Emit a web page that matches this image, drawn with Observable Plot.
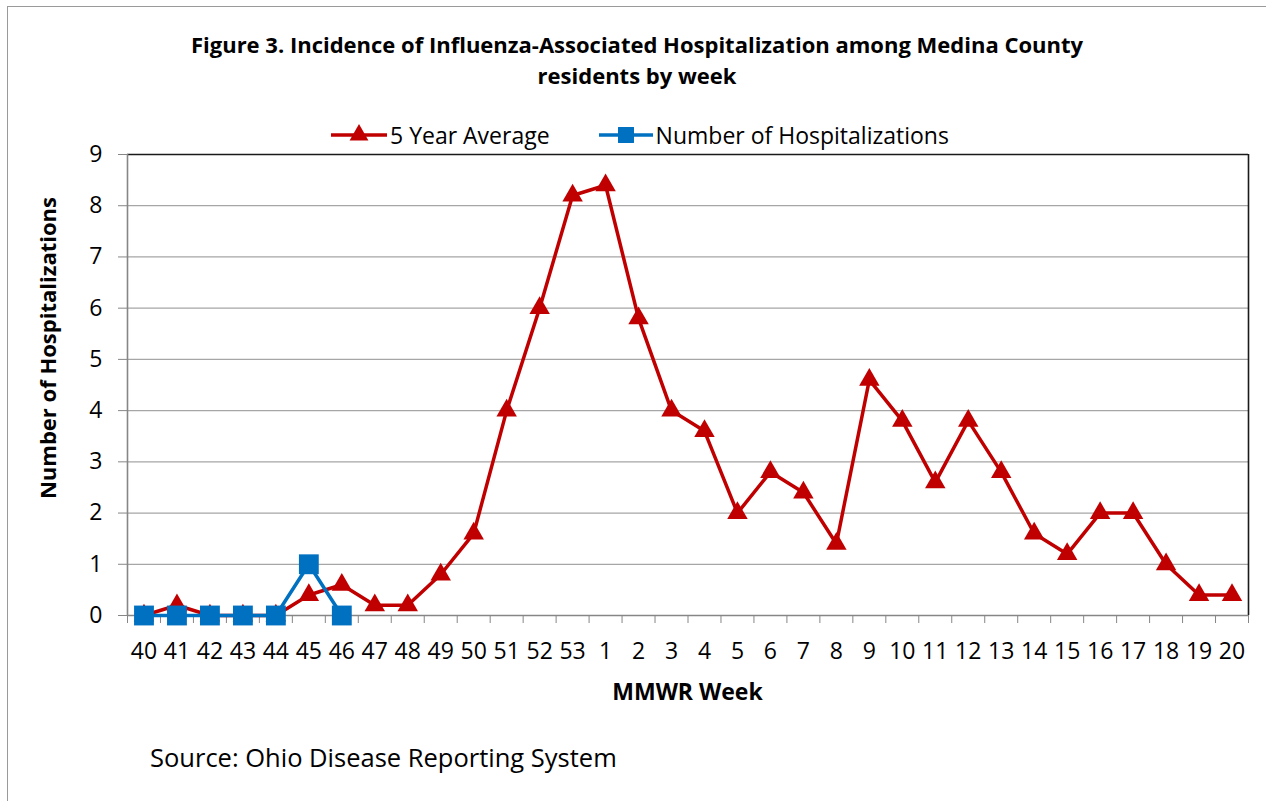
<!DOCTYPE html>
<html>
<head>
<meta charset="utf-8">
<script src="https://cdn.jsdelivr.net/npm/d3@7"></script>
<script src="https://cdn.jsdelivr.net/npm/@observablehq/plot@0.6"></script>
<style>
  html, body { margin: 0; padding: 0; background: #fff; }
  body { font-family: "Open Sans", sans-serif; color: #000; }
  #wrap { position: relative; width: 1266px; height: 801px; overflow: hidden; }
  #frame { position: absolute; left: 7px; top: 6px; width: 1270px; height: 820px;
           border-top: 1.5px solid #9a9a9a; border-left: 1.5px solid #9a9a9a; }
  #title { position: absolute; left: 0; width: 1274px; top: 29px; text-align: center;
           font-weight: bold; font-size: 22px; line-height: 31px; }
  #legend { position: absolute; top: 121px; left: 331px; font-size: 23px; line-height: 28px;
            display: flex; align-items: center; white-space: nowrap; }
  #legend svg { display: block; }
  #plot { position: absolute; left: 0; top: 110px; }
  #ylab { position: absolute; left: 47px; top: 348px; transform: translate(-50%, -50%) rotate(-90deg);
          font-weight: bold; font-size: 22px; white-space: nowrap; }
  #xlab { position: absolute; left: 0; width: 1375px; top: 675px; text-align: center;
          font-weight: bold; font-size: 23px; }
  #source { position: absolute; left: 150px; top: 740px; font-size: 25.5px; }
</style>
</head>
<body>
<div id="wrap">
  <div id="frame"></div>
  <div id="title">Figure 3. Incidence of Influenza-Associated Hospitalization among Medina County<br>residents by week</div>
  <div id="legend"></div>
  <div id="plot"></div>
  <div id="ylab">Number of Hospitalizations</div>
  <div id="xlab">MMWR Week</div>
  <div id="source">Source: Ohio Disease Reporting System</div>
</div>
<script>
// ---- data ----
const weeks = ["40","41","42","43","44","45","46","47","48","49","50","51","52","53",
  "1","2","3","4","5","6","7","8","9","10","11","12","13","14","15","16","17","18","19","20"];
const fiveYearAverage = [0,0.2,0,0,0,0.4,0.6,0.2,0.2,0.8,1.6,4,6,8.2,
  8.4,5.8,4,3.6,2,2.8,2.4,1.4,4.6,3.8,2.6,3.8,2.8,1.6,1.2,2,2,1,0.4,0.4];
const hospitalizations = [0,0,0,0,0,1,0];
const yTicks = [0,1,2,3,4,5,6,7,8,9];
const seriesNames = ["5 Year Average", "Number of Hospitalizations"];
const seriesColors = ["#C00000", "#0070C0"];

const avgData = fiveYearAverage.map((v, i) => ({i, week: weeks[i], value: v}));
const hospData = hospitalizations.map((v, i) => ({i, week: weeks[i], value: v}));
const idx = weeks.map((w, i) => i);
const bounds = d3.range(-0.5, weeks.length, 1);

const gridColor = "#a6a6a6";
const axisColor = "#868686";

const chart = Plot.plot({
  width: 1266,
  height: 600,
  marginLeft: 127,
  marginRight: 18,
  marginTop: 44,
  marginBottom: 95,
  style: {fontFamily: "'Open Sans', sans-serif", fontSize: "23px", color: "#000", background: "transparent"},
  x: {domain: [-0.5, weeks.length - 0.5]},
  y: {domain: [0, 9]},
  marks: [
    Plot.gridY(yTicks.filter(t => t > 0 && t < 9), {stroke: gridColor, strokeOpacity: 1, strokeWidth: 1.3}),
    Plot.ruleY([9], {stroke: "#1a1a1a", strokeWidth: 1.6}),
    Plot.ruleX([weeks.length - 0.5], {stroke: "#1a1a1a", strokeWidth: 1.6}),
    Plot.ruleX([-0.5], {stroke: axisColor, strokeWidth: 1.6}),
    Plot.ruleY([0], {stroke: axisColor, strokeWidth: 1.6}),
    Plot.axisY({ticks: yTicks, tickSize: 9, tickPadding: 16, stroke: axisColor, label: null, fontSize: 23}),
    Plot.axisX({ticks: idx, tickSize: 0, tickPadding: 27, tickFormat: i => weeks[i], label: null, fontSize: 23}),
    Plot.axisX({ticks: bounds, tickSize: 8, tickFormat: () => "", stroke: axisColor, label: null}),
    Plot.lineY(avgData, {x: "i", y: "value", stroke: seriesColors[0], strokeWidth: 3.5}),
    Plot.dot(avgData, {x: "i", y: "value", symbol: "triangle", r: 7.6, fill: seriesColors[0]}),
    Plot.lineY(hospData, {x: "i", y: "value", stroke: seriesColors[1], strokeWidth: 3.5}),
    Plot.dot(hospData, {x: "i", y: "value", symbol: "square", r: 11.2, fill: seriesColors[1]})
  ]
});
document.getElementById("plot").appendChild(chart);

// ---- legend ----
const legend = document.getElementById("legend");
const symbols = [d3.symbolTriangle, d3.symbolSquare];
const sizes = [Math.PI * 7 * 7, Math.PI * 9 * 9];
const widths = [56, 54];
const gaps = [0, 49];
seriesNames.forEach((name, k) => {
  const item = document.createElement("div");
  item.style.display = "flex";
  item.style.alignItems = "center";
  item.style.marginLeft = gaps[k] + "px";
  const w = widths[k];
  const s = d3.create("svg").attr("width", w).attr("height", 24);
  s.append("line").attr("x1", 0).attr("x2", w).attr("y1", 12).attr("y2", 12)
    .attr("stroke", seriesColors[k]).attr("stroke-width", 3.5);
  s.append("path").attr("transform", `translate(${w/2},12)`)
    .attr("d", d3.symbol(symbols[k], sizes[k])()).attr("fill", seriesColors[k]);
  item.appendChild(s.node());
  const t = document.createElement("span");
  t.textContent = name;
  t.style.marginLeft = "3px";
  item.appendChild(t);
  legend.appendChild(item);
});
</script>
</body>
</html>
